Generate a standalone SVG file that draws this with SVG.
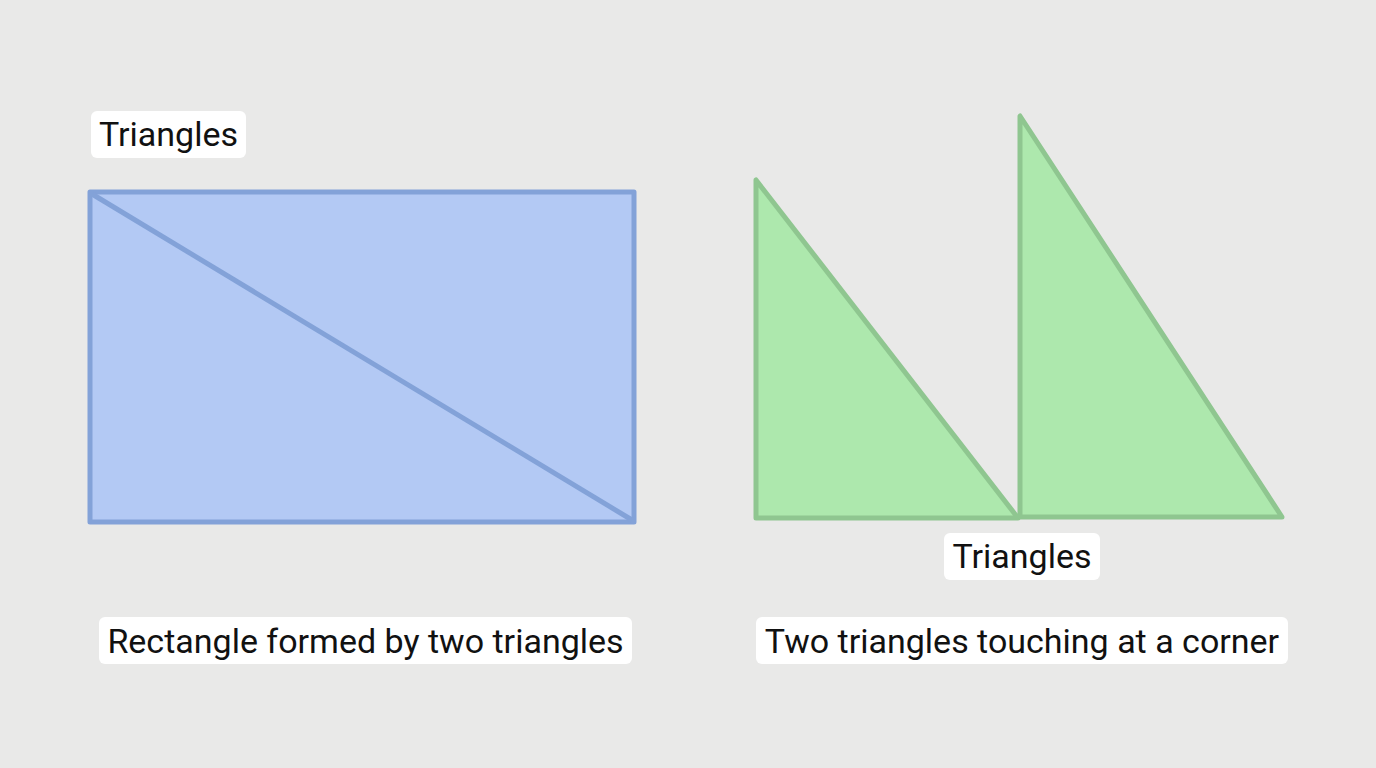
<svg xmlns="http://www.w3.org/2000/svg" width="1376" height="768" viewBox="0 0 1376 768">
<style>
.lbl{fill:#ffffff;}
.t{font-family:Roboto,"Liberation Sans",sans-serif;fill:#111111;text-anchor:middle;font-size:34px;}
.blue{fill:#b3c9f4;stroke:#83a2d8;stroke-width:5;stroke-linejoin:round;}
.green{fill:#ade8ad;stroke:#8fc690;stroke-width:5;stroke-linejoin:round;}
</style>
<rect width="1376" height="768" fill="#e9e9e8"/>
<g id="rectangle">
<rect class="blue" x="90" y="192" width="544" height="330"/>
<line x1="92" y1="194" x2="632" y2="520" stroke="#83a2d8" stroke-width="5"/>
</g>
<g id="triangle-left">
<polygon class="green" points="756,180 756,518 1018,518"/>
</g>
<g id="triangle-right">
<polygon class="green" points="1020,116 1020,517 1282,517"/>
</g>
<g id="label-triangles-top">
<rect class="lbl" x="91" y="111" width="155" height="47" rx="6"/>
<text class="t" x="168.5" y="146">Triangles</text>
</g>
<g id="label-triangles-bottom">
<rect class="lbl" x="944" y="533" width="156" height="47" rx="6"/>
<text class="t" x="1022" y="568">Triangles</text>
</g>
<g id="caption-left">
<rect class="lbl" x="99" y="617" width="533" height="47" rx="6"/>
<text class="t" x="365.5" y="653">Rectangle formed by two triangles</text>
</g>
<g id="caption-right">
<rect class="lbl" x="756" y="617" width="532" height="47" rx="6"/>
<text class="t" x="1022" y="653">Two triangles touching at a corner</text>
</g>
</svg>
